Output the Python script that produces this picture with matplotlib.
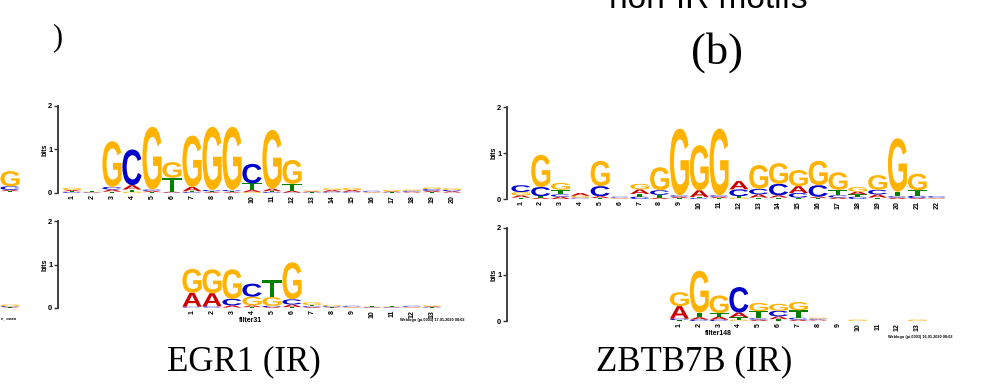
import matplotlib
matplotlib.use("Agg")
import matplotlib.pyplot as plt
from matplotlib.textpath import TextPath
from matplotlib.patches import PathPatch
from matplotlib.font_manager import FontProperties
from matplotlib.transforms import Affine2D

# information content (bits) per base
egr1_top_pos = list(range(1, 21))
egr1_top_A = [.03, .01, .05, .10, .03, .02, .10, .02, .02, .05, .06, .04, .02, .04, .04, .01, .02, .02, .03, .03]
egr1_top_C = [.02, .01, .06, .82, .03, .01, .02, .03, .03, .45, .02, .01, .01, .02, .02, .02, .01, .02, .04, .03]
egr1_top_G = [.05, .01, 1.05, .03, 1.44, .36, 1.18, 1.45, 1.45, .02, 1.35, .55, .02, .04, .05, .01, .03, .03, .04, .04]
egr1_top_T = [.02, .02, .03, .05, .02, .32, .02, .02, .02, .15, .02, .16, .01, .01, .01, .01, .01, .01, .02, .01]

egr1_bot_pos = list(range(1, 14))
egr1_bot_A = [.32, .30, .05, .04, .02, .06, .02, .01, .01, .01, .01, .01, .02]
egr1_bot_C = [.02, .03, .15, .30, .03, .12, .02, .02, .02, .01, .01, .02, .01]
egr1_bot_G = [.55, .55, .68, .20, .20, .85, .06, .03, .01, .01, .01, .01, .02]
egr1_bot_T = [.01, .01, .01, .02, .40, .02, .03, .01, .01, .01, .01, .01, .01]

zbtb_top_pos = list(range(1, 23))
zbtb_top_A = [.05, .03, .05, .06, .04, .01, .10, .03, .03, .15, .03, .18, .07, .05, .15, .03, .03, .06, .07, .03, .02, .01]
zbtb_top_C = [.15, .20, .05, .02, .22, .02, .05, .10, .03, .02, .03, .15, .12, .25, .10, .25, .05, .05, .10, .03, .05, .03]
zbtb_top_G = [.07, .70, .15, .04, .55, .01, .12, .50, 1.45, .98, 1.45, .03, .52, .45, .35, .53, .38, .10, .32, 1.16, .36, .01]
zbtb_top_T = [.03, .03, .10, .01, .02, .01, .06, .06, .02, .02, .02, .03, .03, .03, .03, .02, .12, .05, .03, .10, .12, .01]

zbtb_bot_pos = list(range(1, 14))
zbtb_bot_A = [.27, .05, .06, .10, .03, .06, .03, .02, 0, 0, 0, 0, 0]
zbtb_bot_C = [.03, .03, .03, .55, .03, .12, .04, .02, 0, 0, 0, 0, 0]
zbtb_bot_G = [.30, .90, .38, .03, .18, .15, .18, .02, 0, .03, 0, 0, .03]
zbtb_bot_T = [.02, .10, .08, .05, .15, .04, .16, .01, 0, 0, 0, 0, 0]

# pieces of the panel cut off at the left edge
frag_pos = [1, 2, 3]
frag_top_A = [.01, .02, .03]
frag_top_C = [.01, .02, .08]
frag_top_G = [.02, .03, .35]
frag_top_T = [.01, .01, .02]
frag_bot_A = [.01, .01, .01]
frag_bot_C = [.01, .02, .02]
frag_bot_G = [.01, .02, .04]
frag_bot_T = [.01, .01, .01]

colors = {"A": "#cc0000", "C": "#0000cc", "G": "#ffb300", "T": "#008000"}
letter_font = FontProperties(family="Liberation Sans", weight="bold")
small = dict(family="Liberation Sans", weight="bold")


def draw_letter(ax, base, x0, y0, w, h):
    tp = TextPath((0, 0), base, size=1, prop=letter_font)
    ext = tp.get_extents()
    tr = Affine2D().translate(-ext.x0, -ext.y0).scale(w / ext.width, h / ext.height).translate(x0, y0)
    ax.add_patch(PathPatch(tr.transform_path(tp), facecolor=colors[base], edgecolor="none",
                           transform=ax.transData))


def draw_logo(ax, pos, A, C, G, T, offset=0):
    for i, p in enumerate(pos):
        stack = sorted([(A[i], "A"), (C[i], "C"), (G[i], "G"), (T[i], "T")])
        y = 0
        for h, b in stack:
            if h > 0:
                draw_letter(ax, b, p + offset - 0.48, y, 0.96, h)
            y += h


def style_axes(ax, xlim, ticks, labels, ylabels=True):
    ax.set_xlim(*xlim)
    ax.set_ylim(0, 2)
    for s in ["top", "right", "bottom"]:
        ax.spines[s].set_visible(False)
    ax.spines["left"].set_color("#333333")
    ax.spines["left"].set_linewidth(1.3)
    ax.set_yticks([0, 1, 2])
    ax.set_yticklabels(["0", "1", "2"] if ylabels else [], fontsize=5.5, **small)
    ax.tick_params(axis="y", length=3, width=1, pad=1, color="#333333")
    ax.set_xticks(ticks)
    ax.set_xticklabels([str(t) for t in labels], rotation=90, fontsize=5, **small)
    ax.tick_params(axis="x", length=0, pad=1.5)
    if ylabels:
        ax.set_ylabel("bits", fontsize=5, labelpad=0, **small)
    ax.patch.set_alpha(0)


W, H = 996, 387
fig = plt.figure(figsize=(W / 100, H / 100), dpi=100)


def add_ax(left, right, y0, y2):
    return fig.add_axes([left / W, (H - y0) / H, (right - left) / W, (y0 - y2) / H])


# EGR1 (IR)
ax1 = add_ax(58, 470, 193, 106)
draw_logo(ax1, egr1_top_pos, egr1_top_A, egr1_top_C, egr1_top_G, egr1_top_T)
style_axes(ax1, (0.3, 20.9), egr1_top_pos, egr1_top_pos)

ax2 = add_ax(58, 470, 308, 221)
draw_logo(ax2, egr1_bot_pos, egr1_bot_A, egr1_bot_C, egr1_bot_G, egr1_bot_T, offset=6)
style_axes(ax2, (0.3, 20.9), [p + 6 for p in egr1_bot_pos], egr1_bot_pos)
ax2.text(9.9, -0.2, "filter31", fontsize=5, ha="center", va="top", **small)
ax2.text(20.6, -0.22, "Weblogo (pi.0003) 17.01.2020 08:02", fontsize=2.8, ha="right", va="top", **small)

# ZBTB7B (IR)
ax3 = add_ax(507, 945, 199, 107)
draw_logo(ax3, zbtb_top_pos, zbtb_top_A, zbtb_top_C, zbtb_top_G, zbtb_top_T)
style_axes(ax3, (0.3, 22.4), zbtb_top_pos, zbtb_top_pos)

ax4 = add_ax(507, 945, 321, 228)
draw_logo(ax4, zbtb_bot_pos, zbtb_bot_A, zbtb_bot_C, zbtb_bot_G, zbtb_bot_T, offset=8)
style_axes(ax4, (0.3, 22.4), [p + 8 for p in zbtb_bot_pos], zbtb_bot_pos)
ax4.text(10.95, -0.2, "filter148", fontsize=5, ha="center", va="top", **small)
ax4.text(22.8, -0.3, "Weblogo (pi.0003) 16.01.2020 08:02", fontsize=2.8, ha="right", va="top", **small)

# cut-off panel on the left
fa = add_ax(-50, 20, 192, 105)
draw_logo(fa, frag_pos, frag_top_A, frag_top_C, frag_top_G, frag_top_T)
style_axes(fa, (0, 3.5), [], [], ylabels=False)
fb = add_ax(-50, 20, 308, 221)
draw_logo(fb, frag_pos, frag_bot_A, frag_bot_C, frag_bot_G, frag_bot_T)
style_axes(fb, (0, 3.5), [], [], ylabels=False)
fig.text(1 / W, 1 - 318 / H, "e_ owen", fontsize=2.8, ha="left", va="center", **small)

serif = dict(family="Liberation Serif")
fig.text(244 / W, 1 - 362 / H, "EGR1 (IR)", fontsize=25, ha="center", va="center", **serif)
fig.text(694 / W, 1 - 362 / H, "ZBTB7B (IR)", fontsize=25, ha="center", va="center", **serif)
fig.text(717 / W, 1 - 53 / H, "(b)", fontsize=32, ha="center", va="center", **serif)
fig.text(57 / W, 1 - 38 / H, ")", fontsize=22, ha="center", va="center", **serif)
fig.text(708 / W, 1 - 8 / H, "non-IR motifs", fontsize=24, ha="center", va="baseline",
         family="Liberation Sans")

fig.savefig("out.png", dpi=100)
